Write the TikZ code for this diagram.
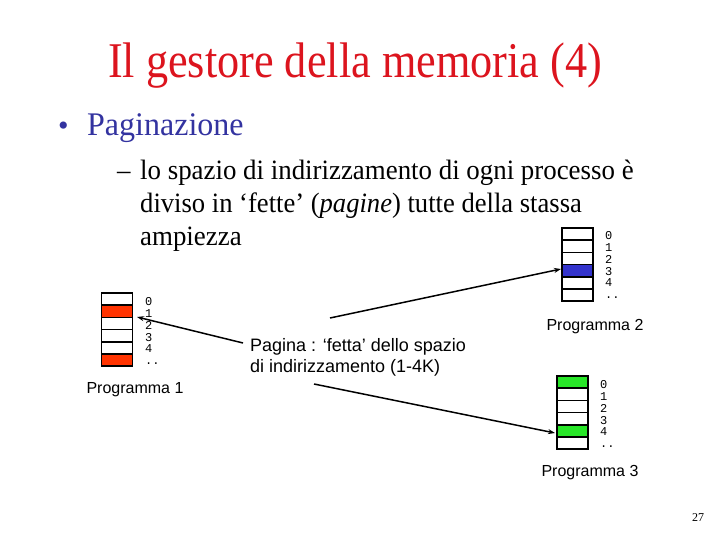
\documentclass[tikz,border=0pt]{standalone}
\usepackage{fontspec}
\setmainfont{Liberation Serif}
\setsansfont{Liberation Sans}
\setmonofont{Liberation Mono}
\usetikzlibrary{arrows.meta}
\definecolor{titlered}{RGB}{220,20,30}
\definecolor{bulblue}{RGB}{51,51,160}
\definecolor{cellred}{RGB}{255,51,0}
\definecolor{cellblue}{RGB}{51,51,204}
\definecolor{cellgreen}{RGB}{40,230,40}
\tikzset{
  cell/.style={draw=black, line width=1.6pt, minimum width=31pt, minimum height=12.2pt, inner sep=0pt, fill=white},
  idx/.style={anchor=west, inner sep=0pt, text height=7.5pt, text depth=0pt, font=\fontsize{12}{12}\ttfamily},
  plabel/.style={inner sep=0pt, font=\fontsize{16}{16}\sffamily},
  ptr/.style={line width=1.5pt, -{Stealth[length=7pt,width=5pt]}},
}
\begin{document}
\begin{tikzpicture}[x=1pt,y=-1pt]
\useasboundingbox (0,0) rectangle (720,540);
% title
\node[anchor=base, inner sep=0pt, text=titlered, font=\fontsize{50}{50}\selectfont] (title) at (355,78) {\scalebox{0.885}[1]{Il gestore della memoria (4)}};
% bullet
\node[anchor=base west, inner sep=0pt, text=bulblue, font=\fontsize{30}{30}\selectfont] (bul) at (58,136) {\textbullet};
\node[anchor=base west, inner sep=0pt, text=bulblue, font=\fontsize{33}{33}\selectfont] (pag) at (87,136) {\scalebox{0.97}[1]{Paginazione}};
% body
\node[anchor=base west, inner sep=0pt, font=\fontsize{28}{28}\selectfont] (dash) at (117,180) {\scalebox{0.96}[1]{--}};
\node[anchor=base west, inner sep=0pt, font=\fontsize{28}{28}\selectfont] (l1) at (140,180) {\scalebox{0.96}[1]{lo spazio di indirizzamento di ogni processo è}};
\node[anchor=base west, inner sep=0pt, font=\fontsize{28}{28}\selectfont] (l2) at (140,212) {\scalebox{0.95}[1]{diviso in ‘fette’ (\textit{pagine}) tutte della stassa}};
\node[anchor=base west, inner sep=0pt, font=\fontsize{28}{28}\selectfont] (l3) at (140,245) {\scalebox{0.96}[1]{ampiezza}};
% Pagina text
\node[anchor=base west, inner sep=0pt, font=\fontsize{18}{18}\sffamily] (pg1) at (250,351) {Pagina : ‘fetta’ dello spazio};
\node[anchor=base west, inner sep=0pt, font=\fontsize{18}{18}\sffamily] (pg2) at (250,372) {di indirizzamento (1-4K)};
% bar 1
\foreach \i/\c in {0/white,1/cellred,2/white,3/white,4/white,5/cellred}{
  \node[cell, fill=\c] (a\i) at (117,{299.1+12.2*\i}) {};
}
\foreach \i/\t in {0/0,1/1,2/2,3/3,4/4,5/..}{
  \node[idx] (ai\i) at (145,{302+11.8*\i}) {\t};
}
% bar 2
\foreach \i/\c in {0/white,1/white,2/white,3/cellblue,4/white,5/white}{
  \node[cell, fill=\c] (b\i) at (577.5,{234.1+12.2*\i}) {};
}
\foreach \i/\t in {0/0,1/1,2/2,3/3,4/4,5/..}{
  \node[idx] (bi\i) at (605,{236+11.8*\i}) {\t};
}
% bar 3
\foreach \i/\c in {0/cellgreen,1/white,2/white,3/white,4/cellgreen,5/white}{
  \node[cell, fill=\c] (c\i) at (572.5,{382.1+12.2*\i}) {};
}
\foreach \i/\t in {0/0,1/1,2/2,3/3,4/4,5/..}{
  \node[idx] (ci\i) at (600,{385+11.8*\i}) {\t};
}
% labels
\node[plabel] (p1) at (135,390) {Programma 1};
\node[plabel] (p2) at (595,327) {Programma 2};
\node[plabel] (p3) at (590,473) {Programma 3};
% page number
\node[inner sep=0pt, font=\fontsize{12}{12}\selectfont] (pnum) at (698,518) {27};
% arrows
\coordinate (s1) at (243,343);
\coordinate (t1) at (137,317);
\coordinate (s2) at (330,318);
\coordinate (t2) at (561,269);
\coordinate (s3) at (314,384);
\coordinate (t3) at (555,433);
\draw[ptr] (s1) -- (t1);
\draw[ptr] (s2) -- (t2);
\draw[ptr] (s3) -- (t3);
\end{tikzpicture}
\end{document}
